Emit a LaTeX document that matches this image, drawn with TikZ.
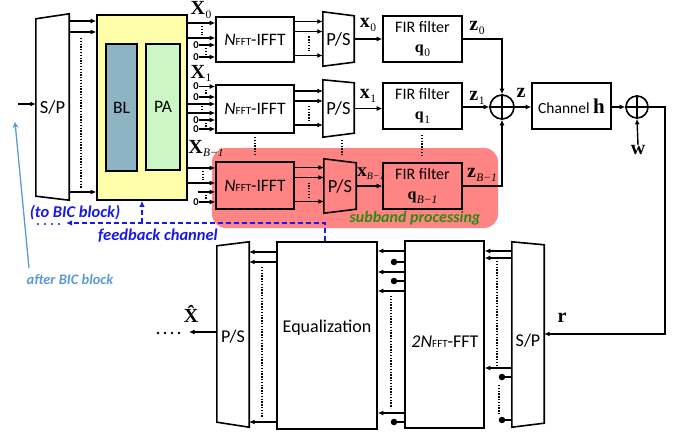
\documentclass[tikz,border=0pt]{standalone}
\usepackage{fontspec}
\setmainfont{Carlito}
\newfontfamily\tnr{Liberation Serif}
\usetikzlibrary{arrows.meta,calc}
\definecolor{yel}{HTML}{FFFFAA}
\definecolor{blc}{HTML}{8DB4C3}
\definecolor{pac}{HTML}{CCF7C4}
\definecolor{redf}{HTML}{FF8585}
\definecolor{fb}{HTML}{1A1AE6}
\definecolor{abic}{HTML}{5B9BD5}
\definecolor{grn}{HTML}{2F8A12}
\newcommand{\bx}[2]{{\tnr\bfseries #1}\kern0.5pt{\tnr\fontsize{11.5}{12}\selectfont\raisebox{-3.5pt}{#2}}}
\newcommand{\nfft}{{\itshape N}{\fontsize{11}{11}\selectfont FFT}-IFFT}
\begin{document}
\begin{tikzpicture}[x=1pt,y=-1pt,
  blk/.style={draw,line width=1.6pt,inner sep=0pt,font=\fontsize{17.5}{19}\selectfont},
  ghost/.style={inner sep=0pt,font=\fontsize{18.5}{20}\selectfont},
  txt/.style={inner sep=0pt,font=\fontsize{18}{20}\selectfont},
  shp/.style={line width=1.6pt,line join=miter},
  arr/.style={line width=1.4pt,-{Latex[length=5.5pt,width=5pt]}},
  ln/.style={line width=1.4pt},
  dots/.style={line width=1.5pt,dash pattern=on 1.3pt off 1.5pt},
  rdots/.style={line width=2.6pt,dash pattern=on 0pt off 7pt,line cap=round},
  zero/.style={inner sep=0pt,font=\fontsize{10.5}{11}\selectfont\bfseries},
  lab/.style={inner sep=0pt,font=\fontsize{20}{22}\selectfont},
  xlab/.style={lab,text height=13pt,text depth=3pt},
  dotn/.style={circle,fill,inner sep=0pt,minimum size=6.5pt},
  fbl/.style={fb,line width=1.5pt,dash pattern=on 5pt off 3pt},
  fbtext/.style={inner sep=0pt,text=fb,font=\fontsize{16.5}{18}\selectfont\bfseries\itshape},
  addr/.style={draw,circle,line width=1.6pt,minimum size=24pt,inner sep=0pt}
]
\useasboundingbox (0,0) rectangle (688,436);

% subband background
\node[fill=redf,rounded corners=14pt,minimum width=286pt,minimum height=80pt,inner sep=0pt] (sub) at (355,188) {};
\node[inner sep=0pt,text=grn,font=\fontsize{16}{18}\selectfont\bfseries\itshape] (subt) at (415,218) {subband processing};

% input S/P
\node[ghost,minimum width=33pt,minimum height=186pt] (sp) at (52.5,107) {S/P};
\draw[shp] ([yshift=-5pt]sp.north west) -- (sp.north east) -- (sp.south east) -- ([yshift=4pt]sp.south west) -- cycle;
\coordinate (in) at (18,104);
\draw[arr] (in) -- (sp.west |- in);

% BL / PA
\node[blk,fill=yel,minimum width=90pt,minimum height=185pt] (yel) at (142,107.5) {};
\node[blk,fill=blc,minimum width=31pt,minimum height=127pt] (bl) at (121.5,107.5) {BL};
\node[blk,fill=pac,minimum width=34pt,minimum height=126pt] (pa) at (163,107) {PA};
\foreach \yy in {21,32,192} \draw[arr] (sp.east |- 0,\yy) -- (yel.west |- 0,\yy);
\draw[dots] (81,38) -- (81,188);

% IFFT blocks
\node[blk,minimum width=78pt,minimum height=45pt] (ifft0) at (255,39.5) {\nfft};
\node[blk,minimum width=78pt,minimum height=48pt] (ifft1) at (255,109) {\nfft};
\node[blk,minimum width=78pt,minimum height=47pt] (ifft2) at (255,185.5) {\nfft};

% P/S blocks
\node[ghost,minimum width=31pt,minimum height=54pt] (ps0) at (338.5,39) {P/S};
\draw[shp] (ps0.north west) -- ([yshift=-4pt]ps0.north east) -- ([yshift=4pt]ps0.south east) -- (ps0.south west) -- cycle;
\node[ghost,minimum width=31pt,minimum height=57pt] (ps1) at (338.5,108.5) {P/S};
\draw[shp] (ps1.north west) -- ([yshift=-3pt]ps1.north east) -- ([yshift=4pt]ps1.south east) -- (ps1.south west) -- cycle;
\node[ghost,minimum width=32pt,minimum height=54pt] (ps2) at (340,186) {P/S};
\draw[shp] (ps2.north west) -- ([yshift=-4pt]ps2.north east) -- ([yshift=4pt]ps2.south east) -- (ps2.south west) -- cycle;

% FIR blocks
\node[blk,minimum width=79pt,minimum height=46pt,align=center,font=\fontsize{16}{20}\selectfont] (fir0) at (422.5,39) {FIR filter\\\bx{q}{0}};
\node[blk,minimum width=79pt,minimum height=46pt,align=center,font=\fontsize{16}{20}\selectfont] (fir1) at (422.5,106) {FIR filter\\\bx{q}{1}};
\node[blk,minimum width=79pt,minimum height=46pt,align=center,font=\fontsize{16}{20}\selectfont] (fir2) at (422.5,186) {FIR filter\\\bx{q}{\itshape B−1}};

% inputs row 0
\node[xlab] (X0) at (201,10) {\bx{X}{0}};
\draw[arr] (yel.east |- 0,23) -- (ifft0.west |- 0,23);
\draw[arr] (yel.east |- 0,38) -- (ifft0.west |- 0,38);
\draw[dots] (202,26) -- (202,35);
\node[zero] (z0a) at (196,45) {0};
\draw[arr] (z0a.east) -- (ifft0.west |- z0a);
\node[zero] (z0b) at (196,57) {0};
\draw[arr] (z0b.east) -- (ifft0.west |- z0b);
\draw[dots] (206,48) -- (206,54);

% inputs row 1
\node[xlab] (X1) at (201,73) {\bx{X}{1}};
\node[zero] (z1a) at (196,86.5) {0};
\draw[arr] (z1a.east) -- (ifft1.west |- z1a);
\node[zero] (z1b) at (196,97) {0};
\draw[arr] (z1b.east) -- (ifft1.west |- z1b);
\draw[dots] (206,89.5) -- (206,94);
\draw[arr] (yel.east |- 0,104) -- (ifft1.west |- 0,104);
\draw[arr] (yel.east |- 0,113) -- (ifft1.west |- 0,113);
\draw[dots] (202,106) -- (202,111);
\node[zero] (z1c) at (196,120) {0};
\draw[arr] (z1c.east) -- (ifft1.west |- z1c);
\node[zero] (z1d) at (196,129) {0};
\draw[arr] (z1d.east) -- (ifft1.west |- z1d);
\draw[dots] (206,122.5) -- (206,126.5);

% inputs row B-1
\node[xlab] (X2) at (206,148) {\bx{X}{\itshape B−1}};
\draw[arr] (yel.east |- 0,168) -- (ifft2.west |- 0,168);
\draw[arr] (yel.east |- 0,183) -- (ifft2.west |- 0,183);
\draw[dots] (203,171) -- (203,180);
\coordinate (s2) at (198,192);
\draw[arr] (s2) -- (ifft2.west |- s2);
\node[zero] (z2a) at (196,202) {0};
\draw[arr] (z2a.east) -- (ifft2.west |- z2a);
\draw[dots] (206,194.5) -- (206,199.5);

% IFFT -> P/S
\foreach \i in {0,1,2}{
  \foreach \d in {-18,-8,16}{
    \path ($(ifft\i.east)+(0,\d)$) coordinate (a\i);
    \draw[arr] (a\i) -- (a\i -| ps\i.west);
  }
  \draw[dots] ($(ifft\i.east)+(14,-3)$) -- ($(ifft\i.east)+(14,12)$);
}

% vertical dots between rows
\draw[dots] (255,137) -- (255,155);
\draw[dots] (342,140) -- (342,155);
\draw[dots] (422,135) -- (422,156);

% P/S -> FIR
\draw[arr] (ps0.east) -- (fir0.west |- ps0.east);
\draw[arr] (ps1.east) -- (fir1.west |- ps1.east);
\draw[arr] (ps2.east) -- (fir2.west |- ps2.east);
\node[lab] (x0) at (368,25) {\bx{x}{0}};
\node[lab] (x1) at (368,96) {\bx{x}{1}};
\node[lab,font=\fontsize{19}{20}\selectfont] (x2) at (371,174) {{\tnr\bfseries x}{\tnr\fontsize{10}{10}\selectfont\raisebox{-3pt}{\itshape B−1}}};

% summation
\node[addr] (add) at (502,107) {};
\draw[line width=1.6pt] (add.north) -- (add.south) (add.west) -- (add.east);
\draw[arr] (fir0.east) -| (add.north);
\draw[arr] (fir1.east |- add) -- (add.west);
\draw[arr] (fir2.east) -| (add.south);
\node[lab] (z0) at (477,28) {\bx{z}{0}};
\node[lab] (z1) at (477,98) {\bx{z}{1}};
\node[lab] (z2) at (482,175) {\bx{z}{\itshape B−1}};
\node[lab] (z) at (521,93) {{\tnr\bfseries z}};

% channel
\node[blk,minimum width=79pt,minimum height=46pt,font=\fontsize{15.5}{18}\selectfont] (ch) at (571.5,106) {Channel {\tnr\bfseries\fontsize{21}{21}\selectfont h}};
\draw[arr] (add.east) -- (ch.west |- add.east);
\node[addr,minimum size=22pt] (add2) at (637,107) {};
\draw[line width=1.6pt] (add2.north) -- (add2.south) (add2.west) -- (add2.east);
\draw[arr] (ch.east |- add2) -- (add2.west);
\node[lab] (w) at (638,150) {{\tnr\bfseries w}};
\draw[arr] (w.north) -- (add2.south);

% receiver
\node[ghost,minimum width=32pt,minimum height=185pt] (bsp) at (528,334.5) {};
\draw[shp] (bsp.north west) -- ([yshift=-3pt]bsp.north east) -- ([yshift=4pt]bsp.south east) -- (bsp.south west) -- cycle;
\node[txt] (bspt) at (528,341) {S/P};
\coordinate (rc) at (665,334);
\draw[arr] (add2.east) -| (rc) -- (bsp.east |- rc);
\node[lab] (r) at (562,318) {{\tnr\bfseries r}};

\node[blk,minimum width=79pt,minimum height=187pt] (fft) at (444.5,334.5) {};
\node[txt] (fftt) at (445,342) {{\itshape 2N}{\fontsize{11}{11}\selectfont FFT}-FFT};
\node[blk,minimum width=100pt,minimum height=187pt] (eq) at (327,335.5) {};
\node[txt] (eqt) at (327,328) {Equalization};
\node[ghost,minimum width=32pt,minimum height=185pt] (bps) at (233,334.5) {};
\draw[shp] ([yshift=-4pt]bps.north west) -- (bps.north east) -- (bps.south east) -- ([yshift=5pt]bps.south west) -- cycle;
\node[txt] (bpst) at (233,337) {P/S};

% S/P -> FFT
\foreach \yy in {251,258,368} \draw[arr] (bsp.west |- 0,\yy) -- (fft.east |- 0,\yy);
\node[dotn] (d1) at (502,377) {};
\draw[ln] (d1) -- (bsp.west |- d1);
\node[dotn] (d2) at (502,420) {};
\draw[ln] (d2) -- (bsp.west |- d2);
\draw[dots] (497,261) -- (497,365);
\draw[dots] (499,385) -- (499,415);

% FFT -> Eq
\foreach \yy in {251,272,291,413} \draw[arr] (fft.west |- 0,\yy) -- (eq.east |- 0,\yy);
\node[dotn] (e1) at (394,262) {};
\draw[ln] (e1) -- (fft.west |- e1);
\node[dotn] (e2) at (394,281) {};
\draw[ln] (e2) -- (fft.west |- e2);
\node[dotn] (e3) at (394,422) {};
\draw[ln] (e3) -- (fft.west |- e3);
\draw[dots] (391,296) -- (391,408);

% Eq -> P/S
\foreach \yy in {252,262,422} \draw[arr] (eq.west |- 0,\yy) -- (bps.east |- 0,\yy);
\draw[dots] (262,267) -- (262,418);

% output
\coordinate (xo) at (189,332);
\draw[arr] (bps.west |- xo) -- (xo);
\draw[rdots] (158,333) -- (180,333);
\node[lab] (xh) at (191,314) {{\tnr\bfseries \^{X}}};

% feedback
\coordinate (fbc) at (325,223);
\coordinate (fbe) at (66,223);
\draw[fbl,-{Latex[length=6pt,width=5.5pt]}] (eq.north -| fbc) -- (fbc) -- (fbe);
\draw[fbl,-{Latex[length=6pt,width=5.5pt]}] (yel.south |- fbc) -- (yel.south);
\draw[fb,rdots,line width=2.4pt] (38,224) -- (60,224);
\node[fbtext] (tobic) at (75,213) {(to BIC block)};
\node[fbtext] (fbt) at (158,236) {feedback channel};

% after BIC
\coordinate (abs) at (29,268);
\coordinate (abe) at (15,122);
\draw[abic,line width=1.3pt,-{Stealth[length=6pt,width=6pt]}] (abs) -- (abe);
\node[inner sep=0pt,text=abic,font=\fontsize{14.5}{16}\selectfont\bfseries\itshape] (abt) at (70,279) {after BIC block};
\end{tikzpicture}
\end{document}
